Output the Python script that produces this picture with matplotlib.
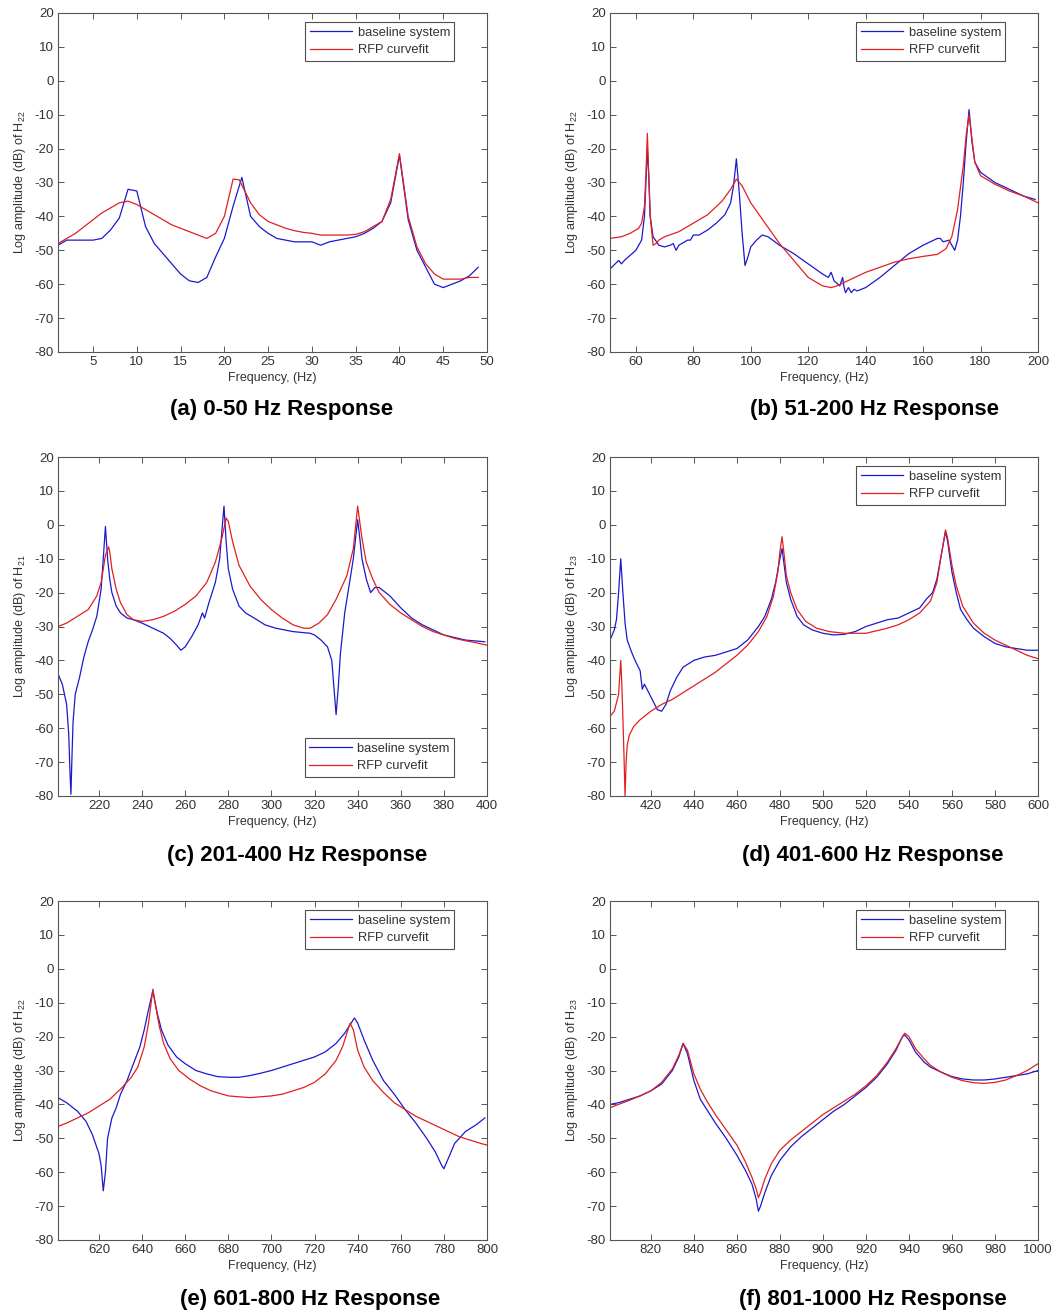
import matplotlib
matplotlib.use("Agg")
import matplotlib.pyplot as plt

plt.rcParams['font.family'] = ['Liberation Sans', 'DejaVu Sans']
plt.rcParams['mathtext.fontset'] = 'custom'
plt.rcParams['mathtext.rm'] = 'Liberation Sans'
plt.rcParams['mathtext.it'] = 'Liberation Sans:italic'
plt.rcParams['axes.unicode_minus'] = False

# ---------------- (a) 0-50 Hz, H22 ----------------
a_fb = [1, 2, 3, 4, 5, 6, 7, 8, 9, 10, 11, 12, 13, 14, 15, 16, 17, 18, 19, 20, 21, 22, 23, 24, 25,
        26, 27, 28, 29, 30, 31, 32, 33, 34, 35, 36, 37, 38, 39, 40, 41, 42, 43, 44, 45, 46, 47, 48, 49]
a_base = [-48.5, -47, -47, -47, -47, -46.5, -44, -40.5, -32, -32.5, -43, -48, -51, -54, -57, -59, -59.5,
          -58, -52, -46.5, -37, -28.5, -40, -43, -45, -46.5, -47, -47.5, -47.5, -47.5, -48.5, -47.5,
          -47, -46.5, -46, -45, -43.5, -41.5, -36, -22, -41, -50, -55, -60, -61, -60, -59, -57.5, -55]
a_ff = [1, 2, 3, 4, 5, 6, 7, 8, 9, 10, 11, 12, 13, 14, 15, 16, 17, 18, 19, 20, 21, 21.7, 23, 24, 25,
        26, 27, 28, 29, 30, 31, 32, 33, 34, 35, 36, 37, 38, 39, 40, 41, 42, 43, 44, 45, 46, 47, 48, 49]
a_fit = [-48, -46.5, -45, -43, -41, -39, -37.5, -36, -35.5, -36.5, -38, -39.5, -41, -42.5, -43.5, -44.5,
         -45.5, -46.5, -45, -40, -29, -29.2, -36, -39.5, -41.5, -42.5, -43.5, -44.2, -44.7, -45, -45.5,
         -45.5, -45.5, -45.5, -45.3, -44.5, -43, -41.5, -35, -21.5, -40, -49, -54, -57, -58.5, -58.5,
         -58.5, -58, -58]

# ---------------- (b) 51-200 Hz, H22 ----------------
b_fb = [51, 54, 55, 56, 58, 60, 62, 63, 63.5, 64, 64.5, 65, 66, 68, 70, 72, 73, 74, 75, 78, 79, 80, 82,
        85, 88, 91, 93, 94, 95, 96, 97, 98, 99, 100, 102, 104, 106, 110, 115, 120, 125, 127, 128, 129,
        131, 132, 132.5, 133, 134, 135, 136, 137, 140, 145, 150, 155, 160, 165, 166, 167, 169, 171,
        172, 173, 174, 175, 176, 177, 178, 180, 185, 190, 195, 199]
b_base = [-55.5, -53, -54, -53, -51.5, -50, -47, -40, -30, -20, -28, -40, -46, -48.5, -49, -48.5, -48,
          -50, -48.5, -47, -47, -45.5, -45.5, -44, -42, -39.5, -36, -31, -23, -33, -45, -54.5, -52,
          -49, -47, -45.5, -46, -48.5, -51, -54, -57, -58, -56.5, -59, -60.5, -58, -61, -62.5, -61,
          -62.5, -61.5, -62, -61, -58, -54.5, -51, -48.5, -46.5, -46.5, -47.5, -47, -50, -47, -40,
          -30, -18, -8.5, -18, -24, -27, -30, -32, -34, -35]
b_ff = [51, 55, 58, 61, 62, 63, 63.5, 64, 64.5, 65, 66, 67, 68, 70, 75, 80, 85, 90, 93, 95, 97, 100,
        105, 110, 115, 120, 125, 128, 130, 135, 140, 145, 150, 155, 160, 165, 168, 170, 172, 174, 175,
        176, 177, 178, 180, 185, 190, 195, 200]
b_fit = [-46.5, -46, -45, -43.5, -42, -37, -28, -15.5, -28, -40, -48.5, -48, -47, -46, -44.5, -42,
         -39.5, -35.5, -32, -29, -31, -36, -42, -48, -53, -58, -60.5, -61, -60.5, -58.5, -56.5, -55,
         -53.5, -52.5, -51.8, -51.2, -49.5, -46, -38, -25, -16, -10, -17, -24, -28, -30.5, -32.5,
         -34, -36]

# ---------------- (c) 201-400 Hz, H21 ----------------
c_fb = [201, 203, 205, 206, 206.5, 207, 207.5, 208, 209, 211, 213, 215, 217, 219, 221, 222, 223, 224,
        225, 226, 228, 230, 233, 236, 240, 245, 250, 253, 256, 258, 260, 263, 266, 268, 269, 271, 274,
        276, 277, 278, 279, 280, 282, 285, 288, 292, 297, 302, 310, 318, 320, 323, 326, 328, 329, 330,
        331, 332, 334, 336, 338, 340, 341, 342, 344, 346, 348, 350, 355, 360, 365, 370, 380, 390, 399]
c_base = [-44, -47, -53, -62, -72, -79.5, -68, -58, -50, -45, -39, -34.5, -31, -27, -19, -10, -0.5,
          -10, -16, -20, -24, -26, -27.5, -28, -29, -30.5, -32, -33.5, -35.5, -37, -36, -33, -29.5,
          -26, -27.5, -23, -17, -10, -2, 5.5, -5, -13, -19, -24, -26, -27.5, -29.5, -30.5, -31.5, -32,
          -32.5, -34, -36, -40, -48, -56, -48, -38, -26, -18, -10, 1.5, -4, -10, -16, -20, -18.5,
          -18.5, -21, -24.5, -27.5, -29.5, -32.5, -34, -34.5]
c_ff = [201, 205, 210, 215, 219, 221, 222, 223, 224.5, 225, 226, 228, 230, 233, 236, 240, 245, 250,
        255, 260, 265, 270, 274, 277, 279, 280, 282, 285, 290, 295, 300, 305, 310, 315, 318, 322, 326,
        330, 335, 338, 340, 342, 344, 347, 350, 355, 360, 365, 370, 375, 380, 385, 390, 395, 400]
c_fit = [-30, -29, -27, -25, -21, -17, -13, -9, -6.5, -8, -13, -19, -23, -26.5, -28, -28.5, -28, -27,
         -25.5, -23.5, -21, -17, -11, -4, 2, 1, -5, -12, -18, -22, -25, -27.5, -29.5, -30.5, -30.5,
         -29, -26.5, -22, -15, -7, 5.5, -4, -11, -16, -20, -23.5, -26, -28, -30, -31.5, -32.5, -33.5,
         -34.2, -34.8, -35.5]

# ---------------- (d) 401-600 Hz, H23 ----------------
d_fb = [401, 402, 403, 404, 405, 406, 407, 408, 409, 411, 413, 415, 416, 417, 419, 421, 423, 425, 427,
        429, 432, 435, 440, 445, 450, 455, 460, 465, 470, 473, 476, 478, 480, 481, 482, 483, 485, 488,
        491, 495, 500, 505, 510, 515, 520, 525, 530, 535, 540, 545, 548, 551, 553, 555, 557, 558, 560,
        562, 564, 567, 570, 575, 580, 585, 590, 595, 600]
d_base = [-34, -32.5, -31, -28, -20, -10, -20, -29, -34, -37.5, -40.5, -43, -48.5, -47, -49.5, -52,
          -54.5, -55, -53, -49, -45, -42, -40, -39, -38.5, -37.5, -36.5, -34, -30, -27, -22, -17, -10,
          -7, -12, -17, -22, -27, -29.5, -31, -32, -32.5, -32.3, -31.5, -30, -29, -28, -27.5, -26,
          -24.5, -22, -20, -16, -9, -2, -5, -14, -20, -25, -28, -30.5, -33, -35, -36, -36.5, -37, -37]
d_ff = [401, 403, 405, 405.5, 406, 406.5, 407, 407.5, 408, 408.5, 409, 410, 412, 415, 420, 425, 430,
        435, 440, 445, 450, 455, 460, 465, 470, 474, 477, 479, 480, 481, 482, 483, 485, 488, 492, 497,
        503, 510, 520, 530, 535, 540, 545, 550, 553, 555, 557, 558, 560, 562, 565, 570, 575, 580, 585,
        590, 595, 600]
d_fit = [-56.5, -55, -50, -45, -40, -47, -57, -68, -80, -70, -65, -62, -59.5, -57.5, -55, -53, -51.5,
         -49.5, -47.5, -45.5, -43.5, -41, -38.5, -35.5, -31.5, -27, -21, -14, -8, -3.5, -9, -15, -20,
         -25, -28.5, -30.5, -31.5, -32, -32, -30.5, -29.5, -28, -26, -22.5, -17, -9, -1.5, -4, -12,
         -18, -24, -29, -32, -34, -35.5, -37, -38.5, -39.5]

# ---------------- (e) 601-800 Hz, H22 ----------------
e_fb = [601, 605, 610, 614, 617, 620, 621, 622, 623, 624, 626, 628, 630, 633, 636, 639, 641, 643, 645,
        647, 649, 652, 656, 660, 665, 670, 675, 680, 685, 690, 695, 700, 705, 710, 715, 720, 725, 730,
        734, 737, 738.5, 740, 743, 747, 752, 757, 762, 767, 772, 776, 779, 780, 782, 785, 790, 795, 799]
e_base = [-38, -39.5, -42, -45, -49, -54.5, -58, -65.5, -60, -50, -44, -41, -37, -33, -28, -23, -18,
          -12, -6.5, -13, -18, -22.5, -26, -28, -30, -31, -31.8, -32, -32, -31.5, -30.8, -30, -29, -28,
          -27, -26, -24.5, -22, -19, -16, -14.5, -16, -21, -27, -33, -37, -41.5, -45.5, -50, -54, -58,
          -59, -56, -51.5, -48, -46, -44]
e_ff = [601, 605, 610, 615, 620, 625, 630, 635, 638, 641, 643, 645, 646, 648, 650, 653, 657, 662, 667,
        672, 680, 690, 700, 705, 710, 715, 720, 725, 730, 733, 735, 736.5, 738, 740, 743, 747, 752, 757,
        762, 767, 772, 777, 782, 787, 792, 797, 800]
e_fit = [-46.5, -45.5, -44, -42.5, -40.5, -38.5, -35.5, -32, -29, -23, -16, -6, -10, -17, -22, -26.5,
         -30, -32.5, -34.5, -36, -37.5, -38, -37.5, -37, -36, -35, -33.5, -31, -27, -23, -19, -16, -18,
         -24, -29, -33, -36.5, -39.5, -41.5, -43.5, -45, -46.5, -48, -49.5, -50.5, -51.5, -52]

# ---------------- (f) 801-1000 Hz, H23 ----------------
f_fb = [801, 805, 810, 815, 820, 825, 830, 833, 835, 837, 840, 843, 846, 850, 855, 860, 864, 867, 869,
        870, 871, 873, 876, 880, 885, 890, 895, 900, 905, 910, 915, 920, 925, 930, 934, 937, 938, 940,
        943, 947, 950, 955, 960, 965, 970, 975, 980, 985, 990, 995, 1000]
f_base = [-40, -39.5, -38.5, -37.5, -36, -34, -30, -26, -22, -25, -33, -38.5, -41.5, -45.5, -50, -55,
          -59.5, -63.5, -68, -71.5, -70, -66, -61, -56.5, -52.5, -49.5, -47, -44.5, -42, -40, -37.5,
          -35, -32, -28, -24, -20, -19.5, -21, -24.5, -27.5, -29, -30.5, -31.8, -32.5, -32.8, -32.8,
          -32.5, -32, -31.5, -31, -30]
f_ff = f_fb
f_fit = [-41, -40, -38.8, -37.5, -36, -33.5, -29.5, -25.5, -22, -24, -31, -35.5, -39, -43, -47.5, -52,
         -57, -61.5, -65, -67.5, -66, -62, -57.5, -53.5, -50.5, -48, -45.5, -43, -41, -39, -37, -34.5,
         -31.5, -27.5, -23.5, -20, -19, -20, -23.5, -26.5, -28.5, -30.5, -32, -33, -33.6, -33.8, -33.5,
         -32.8, -31.5, -30, -28]

xlims = [(1, 50), (51, 200), (201, 400), (401, 600), (601, 800), (801, 1000)]
xticks = [list(range(5, 51, 5)), list(range(60, 201, 20)), list(range(220, 401, 20)),
          list(range(420, 601, 20)), list(range(620, 801, 20)), list(range(820, 1001, 20))]
yticks = list(range(-80, 21, 10))
ylabels = ['Log amplitude (dB) of H$_{22}$', 'Log amplitude (dB) of H$_{22}$',
           'Log amplitude (dB) of H$_{21}$', 'Log amplitude (dB) of H$_{23}$',
           'Log amplitude (dB) of H$_{22}$', 'Log amplitude (dB) of H$_{23}$']
captions = ['(a) 0-50 Hz Response', '(b) 51-200 Hz Response', '(c) 201-400 Hz Response',
            '(d) 401-600 Hz Response', '(e) 601-800 Hz Response', '(f) 801-1000 Hz Response']
series = [(a_fb, a_base, a_ff, a_fit), (b_fb, b_base, b_ff, b_fit), (c_fb, c_base, c_ff, c_fit),
          (d_fb, d_base, d_ff, d_fit), (e_fb, e_base, e_ff, e_fit), (f_fb, f_base, f_ff, f_fit)]

W, H = 1054, 1315
fig = plt.figure(figsize=(W / 100, H / 100), dpi=100)

lefts = [58, 610]
widths = [429, 428]
tops = [13, 457, 901]
ah = 339
cap_x = [282, 874, 297, 873, 310, 873]
cap_y = [410, 855, 1299]
txt = '#333333'

for i in range(6):
    r, c = divmod(i, 2)
    ax = fig.add_axes([lefts[c] / W, 1 - (tops[r] + ah) / H, widths[c] / W, ah / H])
    fb, base, ff, fit = series[i]
    ax.plot(fb, base, color='#1a1acc', lw=0.9, label='baseline system')
    ax.plot(ff, fit, color='#e02020', lw=0.9, label='RFP curvefit')
    ax.set_xlim(*xlims[i])
    ax.set_ylim(-80, 20)
    ax.set_xticks(xticks[i])
    ax.set_yticks(yticks)
    ax.tick_params(direction='in', top=True, right=True, length=4, width=0.7,
                   labelsize=9.5, colors='#555555', labelcolor=txt, pad=3)
    for s in ax.spines.values():
        s.set_color('#555555')
        s.set_linewidth(0.8)
    ax.set_xlabel('Frequency, (Hz)', fontsize=9, color=txt, labelpad=3)
    ax.set_ylabel(ylabels[i], fontsize=9, color=txt, labelpad=5)
    if i == 2:
        loc, anchor = 'lower right', (0.923, 0.056)
    else:
        loc, anchor = 'upper right', (0.924, 0.9735)
    leg = ax.legend(loc=loc, bbox_to_anchor=anchor, fontsize=9.3, frameon=True, fancybox=False,
                    handlelength=3.3, borderaxespad=0.0, labelspacing=0.45, handletextpad=0.4,
                    borderpad=0.35)
    leg.get_frame().set_edgecolor('#222222')
    leg.get_frame().set_linewidth(0.8)
    for t in leg.get_texts():
        t.set_color(txt)
    fig.text(cap_x[i] / W, 1 - cap_y[r] / H, captions[i], ha='center', va='center',
             fontsize=16, fontweight='bold', color='black')

fig.savefig('out.png', dpi=100)
